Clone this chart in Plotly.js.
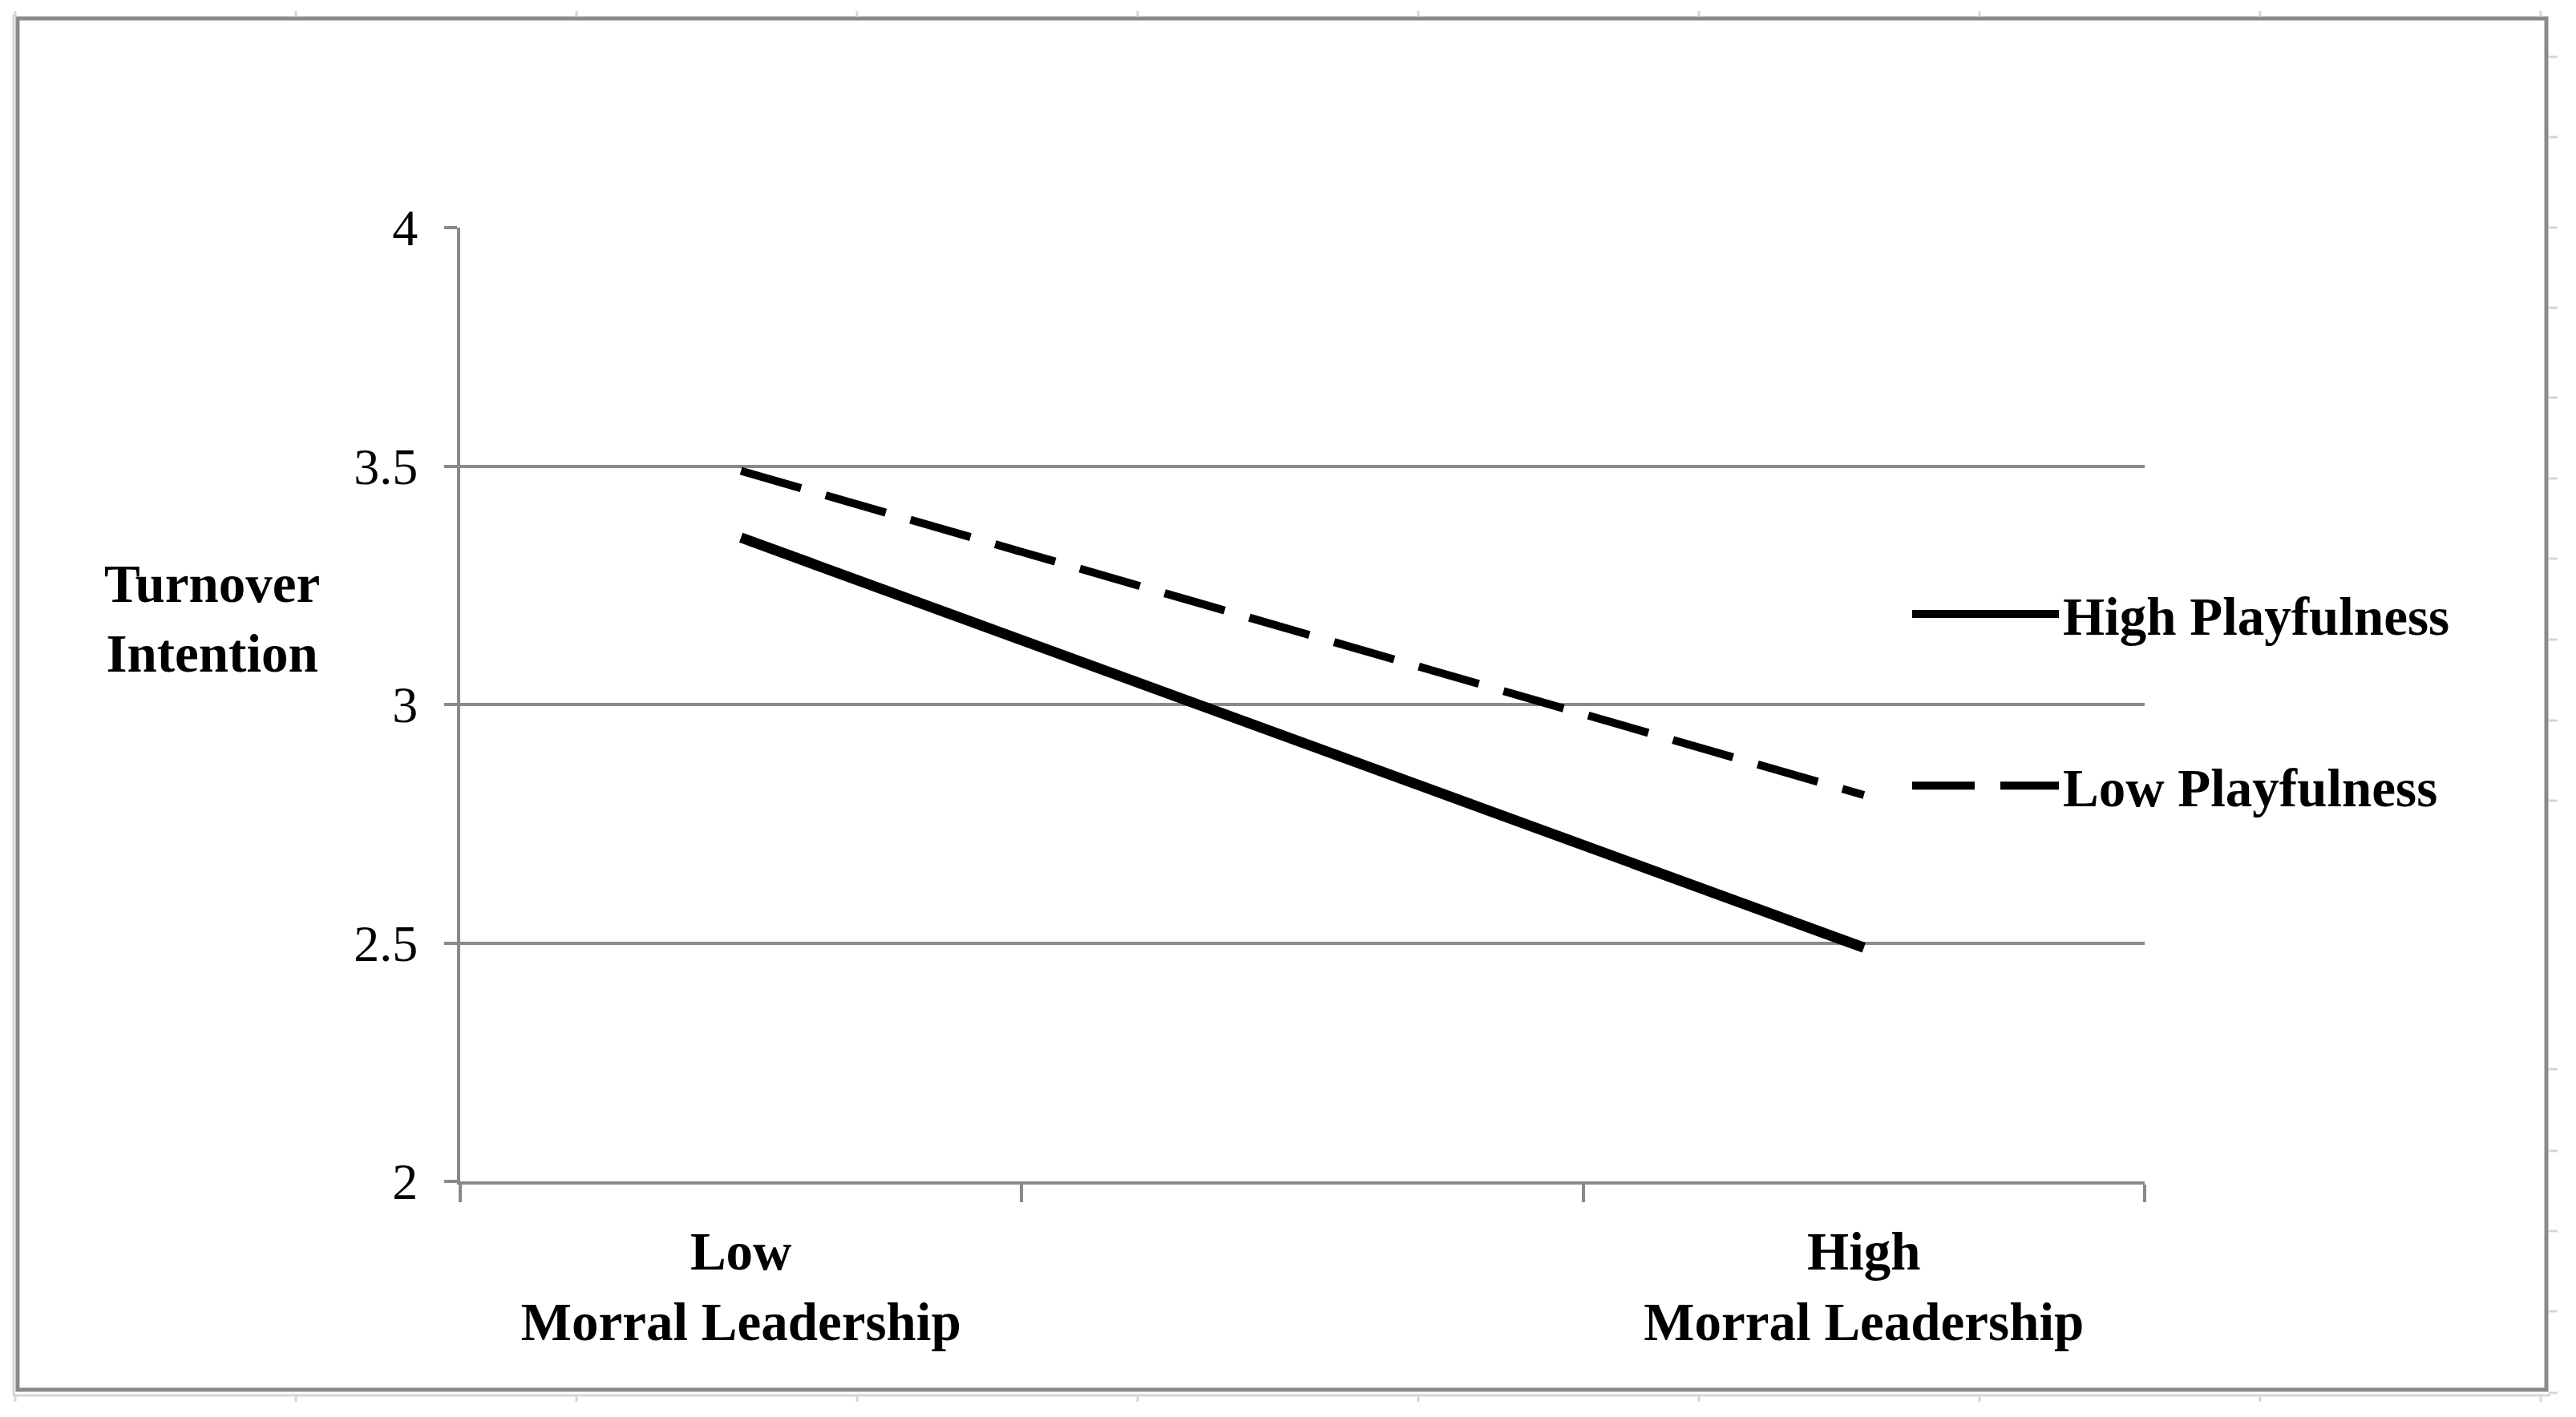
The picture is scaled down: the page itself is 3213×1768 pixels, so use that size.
<!DOCTYPE html>
<html><head><meta charset="utf-8">
<script src="https://cdn.plot.ly/plotly-3.0.1.min.js"></script>
<style>html,body{margin:0;padding:0;background:#fff;overflow:hidden;} #chart{width:3213px;height:1768px;}</style>
</head><body><div id="chart"></div>
<script>
// ---- data ----
const categories = ["Low<br>Morral Leadership", " ", "High<br>Morral Leadership"];
const highPlayfulness = [3.35, null, 2.49];
const lowPlayfulness = [3.49, null, 2.81];
const seriesNames = ["High Playfulness", "Low Playfulness"];
const yTickValues = [2, 2.5, 3, 3.5, 4];
const yTickLabels = ["2", "2.5", "3", "3.5", "4"];
const yAxisTitle = "Turnover<br>Intention";

// ---- layout helpers (pixel -> paper) ----
const W = 3213, H = 1768, L = 574, R = 2675, T = 284, B = 1474;
const px = x => (x - L) / (R - L);
const py = y => (B - y) / (B - T);
const SERIF = "Liberation Serif, Times New Roman, serif";
const GRID = "#898989";
const LIGHT = "#d6d6d6";

const shapes = [];
// outer frame
shapes.push({type:"rect", xref:"paper", yref:"paper", x0:px(22), x1:px(3176), y0:py(23), y1:py(1734),
  line:{color:"#8a8a8a", width:5}, fillcolor:"rgba(0,0,0,0)", layer:"below"});
// light shadow lines
shapes.push({type:"line", xref:"paper", yref:"paper", x0:px(17), x1:px(17), y0:py(18), y1:py(1742), line:{color:LIGHT, width:3}});
shapes.push({type:"line", xref:"paper", yref:"paper", x0:px(17), x1:px(3181), y0:py(1741), y1:py(1741), line:{color:LIGHT, width:3}});
// ruler marks top / bottom
for (let k = 0; k < 10; k++) {
  const x = 19 + 350 * k;
  shapes.push({type:"line", xref:"paper", yref:"paper", x0:px(x), x1:px(x), y0:py(14), y1:py(21), line:{color:LIGHT, width:3}});
  shapes.push({type:"line", xref:"paper", yref:"paper", x0:px(x), x1:px(x), y0:py(1740), y1:py(1749), line:{color:LIGHT, width:3}});
}
// ruler marks right
[71,171,284,384,496,597,697,798,899,999,1334,1436,1536,1636,1738].forEach(y => {
  shapes.push({type:"line", xref:"paper", yref:"paper", x0:px(3179), x1:px(3190), y0:py(y), y1:py(y), line:{color:LIGHT, width:3}});
});

const traces = [
  {x: categories, y: highPlayfulness, name: seriesNames[0], type: "scatter", mode: "lines",
   connectgaps: true, legendgroup: "g1", line: {color: "#000000", width: 13}},
  {x: categories, y: lowPlayfulness, name: seriesNames[1], type: "scatter", mode: "lines",
   connectgaps: true, legendgroup: "g2", line: {color: "#000000", width: 10, dash: "78px,32px"}}
];

const layout = {
  width: W, height: H,
  paper_bgcolor: "#ffffff", plot_bgcolor: "#ffffff",
  margin: {l: L, r: W - R, t: T, b: H - B, pad: 0},
  showlegend: true,
  hovermode: false,
  font: {family: SERIF, color: "#000000"},
  xaxis: {
    type: "category", categoryorder: "array", categoryarray: categories,
    range: [-0.5, 2.5], fixedrange: true,
    showgrid: false, zeroline: false,
    showline: true, linecolor: GRID, linewidth: 4,
    ticks: "outside", tickson: "boundaries", ticklen: 22, tickwidth: 4, tickcolor: GRID,
    ticklabelstandoff: 26,
    tickfont: {family: SERIF, size: 67, color: "#000000", weight: "bold"},
    tickangle: 0
  },
  yaxis: {
    range: [2, 4], fixedrange: true,
    tickmode: "array", tickvals: yTickValues, ticktext: yTickLabels,
    showgrid: true, gridcolor: GRID, gridwidth: 4, zeroline: false,
    showline: true, linecolor: GRID, linewidth: 4,
    ticks: "outside", ticklen: 16, tickwidth: 4, tickcolor: GRID,
    ticklabelstandoff: 20,
    tickfont: {family: SERIF, size: 64, color: "#000000"}
  },
  legend: {
    x: px(2380), xanchor: "left", y: py(716), yanchor: "top",
    bgcolor: "rgba(0,0,0,0)", borderwidth: 0,
    itemwidth: 183, tracegroupgap: 124, traceorder: "grouped",
    font: {family: SERIF, size: 67, color: "#000000", weight: "bold"},
    itemclick: false, itemdoubleclick: false
  },
  annotations: [{
    text: yAxisTitle, xref: "paper", yref: "paper",
    x: px(265), y: py(771), xanchor: "center", yanchor: "middle", align: "center",
    showarrow: false,
    font: {family: SERIF, size: 67, color: "#000000", weight: "bold"}
  }],
  shapes: shapes
};

Plotly.newPlot("chart", traces, layout, {displayModeBar: false, staticPlot: true});
</script>
</body></html>
